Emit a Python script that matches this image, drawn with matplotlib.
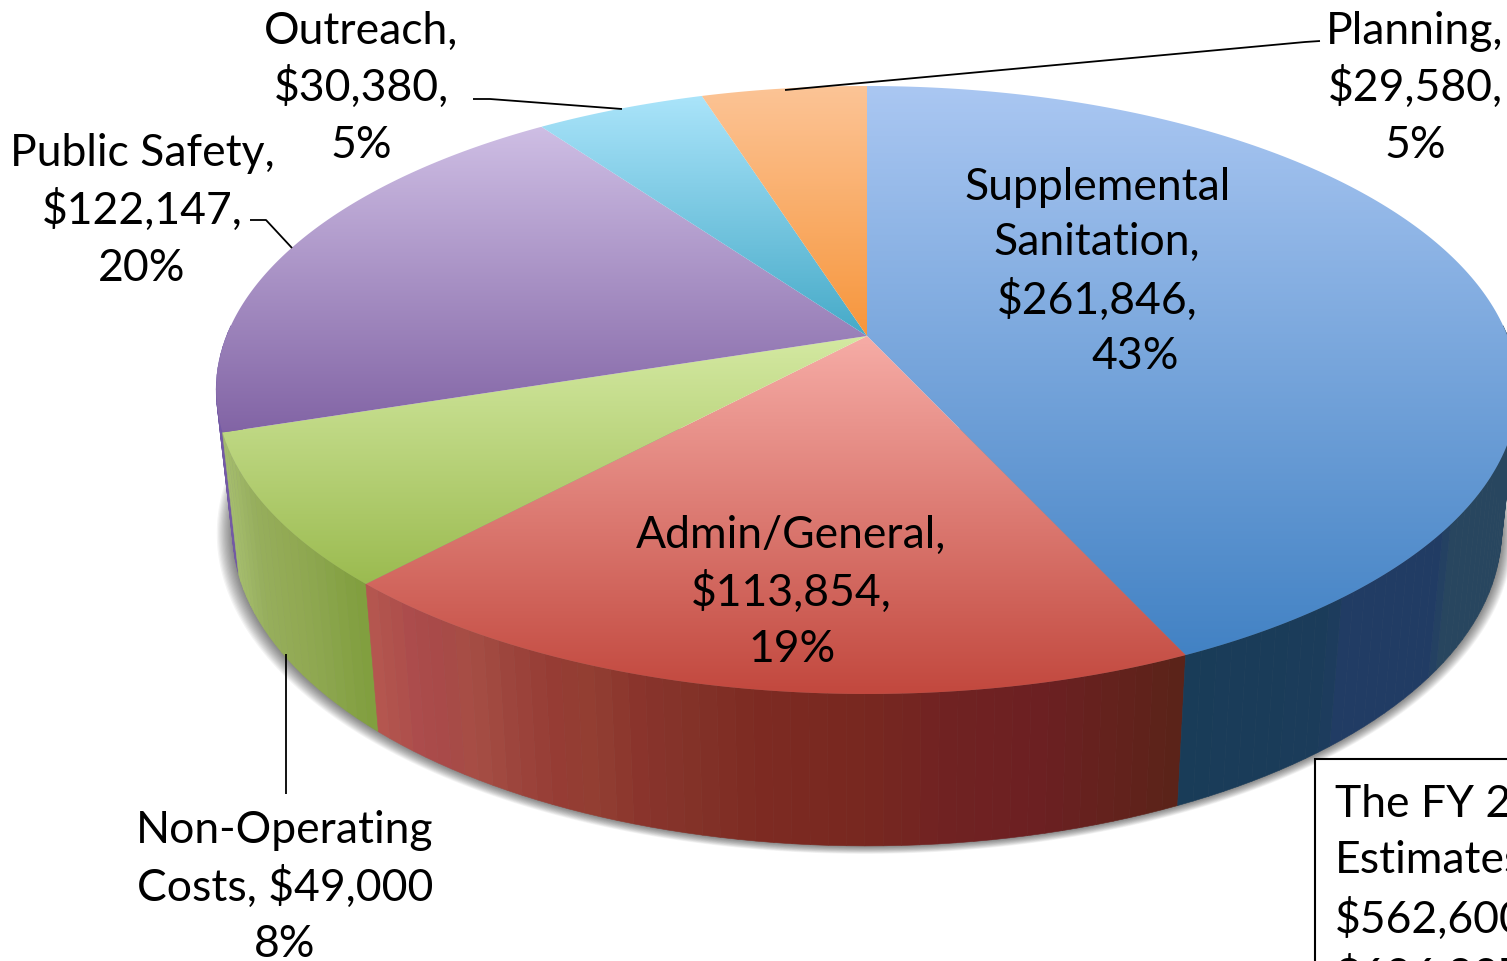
import numpy as np
import matplotlib
matplotlib.use("Agg")
import matplotlib.pyplot as plt
from matplotlib.patches import Polygon, Rectangle
from matplotlib.collections import PolyCollection

plt.rcParams['font.family'] = ['Lato', 'DejaVu Sans']

categories = ["Supplemental Sanitation", "Admin/General", "Non-Operating Costs",
              "Public Safety", "Outreach", "Planning"]
values = [261846, 113854, 49000, 122147, 30380, 29580]
percents = ["43%", "19%", "8%", "20%", "5%", "5%"]
note_lines = ["The FY 2016", "Estimates", "$562,600", "$606,207"]

W, H = 1507, 962
CX, CY = 867.0, 337.0
R, A, K = 640.5, 294.4, 0.1776

TOP_GRAD = [((170, 199, 242), (66, 130, 196), 87, 656),
            ((246, 172, 166), (194, 72, 62), 337, 695),
            ((212, 233, 162), (155, 187, 80), 337, 585),
            ((206, 190, 228), (130, 100, 165), 128, 433),
            ((170, 228, 250), (70, 170, 200), 97, 337),
            ((252, 196, 150), (247, 150, 60), 87, 337)]

WALL_STOPS = [
    [(1178, (25, 60, 88)), (1318, (27, 60, 90)), (1335, (33, 60, 100)), (1425, (33, 60, 100)),
     (1440, (40, 70, 95)), (1507, (40, 70, 95))],
    [(378, (182, 88, 80)), (400, (176, 82, 76)), (420, (172, 76, 76)), (450, (168, 74, 72)),
     (480, (166, 78, 68)), (510, (158, 70, 62)), (560, (150, 60, 52)), (600, (146, 62, 50)),
     (640, (138, 52, 44)), (700, (130, 50, 40)), (760, (125, 42, 34)), (860, (120, 40, 32)),
     (950, (112, 34, 34)), (1040, (108, 32, 34)), (1120, (98, 34, 28)), (1178, (90, 35, 25))],
    [(235, (168, 192, 112)), (250, (160, 184, 104)), (270, (150, 174, 92)), (300, (146, 170, 84)),
     (330, (140, 166, 78)), (350, (134, 162, 70)), (378, (128, 158, 62))],
    [(215, (115, 90, 165)), (260, (115, 90, 165))],
]


def top_xy(theta):
    u, v = np.sin(theta), np.cos(theta)
    d = 1 + K * v
    return CX + R * u / d, CY - A * v / d


def bottom_xy(theta):
    x, y = top_xy(theta)
    return CX + 0.975 * (x - CX), y + 142 + 0.038 * (y - 433)


def wall_colour(x, stops):
    xs = [s[0] for s in stops]
    return tuple(np.interp(x, xs, [s[1][i] for s in stops]) / 255 for i in range(3))


fig = plt.figure(figsize=(W / 100, H / 100), dpi=100)
ax = fig.add_axes([0, 0, 1, 1])
ax.set_axis_off()

angles = np.concatenate([[0], np.cumsum(values) / np.sum(values) * 2 * np.pi])

# soft shadow below the pie
tt = np.linspace(np.pi * 0.45, np.pi * 1.55, 240)
bx, by = bottom_xy(tt)
for grow in np.linspace(14, 1, 13):
    frac = grow / 14
    sx = CX + (bx - CX) * (1 + grow / 650) - 2 * frac
    sy = by + grow * 0.55 * (by - 330) / 500
    ax.add_patch(Polygon(np.c_[sx, sy], closed=True, fc='black', ec='none', alpha=0.045, zorder=1))

# side walls: purple sliver first, then the front slices
for idx in [3, 2, 1, 0]:
    a0, a1 = angles[idx], angles[idx + 1]
    if idx == 3:
        a1 = np.radians(272)
    if idx == 0:
        a0 = np.radians(88)
    steps = int(np.degrees(a1 - a0) / 1.4) + 1
    th = np.linspace(a0, a1, steps + 1)
    tx, ty = top_xy(th)
    lx, ly = bottom_xy(th)
    polys, cols = [], []
    stops = WALL_STOPS[idx]
    for i in range(steps):
        polys.append([(tx[i], ty[i]), (tx[i + 1], ty[i + 1]), (lx[i + 1], ly[i + 1]), (lx[i], ly[i])])
        cols.append(wall_colour(0.5 * (lx[i] + lx[i + 1]), stops))
    ax.add_collection(PolyCollection(polys, facecolors=cols, edgecolors=cols, linewidths=0.4, zorder=2))

# top faces
for i, (c0, c1, y0, y1) in enumerate(TOP_GRAD):
    th = np.linspace(angles[i], angles[i + 1], 200)
    ex, ey = top_xy(th)
    poly = Polygon(np.r_[[[CX, CY]], np.c_[ex, ey]], closed=True, transform=ax.transData,
                   fc='none', ec='none')
    ax.add_patch(poly)
    grad = np.linspace(np.array(c0), np.array(c1), 256)[:, None, :] / 255
    im = ax.imshow(grad, extent=(0, W, y1, y0), aspect='auto', interpolation='bilinear', zorder=3)
    im.set_clip_path(poly)

ax.set_xlim(0, W)
ax.set_ylim(H, 0)

# leader lines
leaders = [([785, 1305, 1320], [91, 43, 42]),
           ([473, 490, 622], [100, 100, 110]),
           ([250, 266, 292], [221, 221, 249]),
           ([286, 286], [655, 795])]
for lx_, ly_ in leaders:
    ax.plot(lx_, ly_, color='black', lw=1.3, zorder=4, solid_capstyle='butt')

# labels
money = [f"${v:,}" for v in values]
FS = 32
labels = [
    (["Supplemental", "Sanitation,", money[0] + ",", percents[0]],
     [1098, 1097, 1097, 1135], [183, 238, 296, 353]),
    (["Admin/General,", money[1] + ",", percents[1]],
     [791, 791, 792], [531, 588, 646]),
    (["Non-Operating", "Costs, " + money[2], percents[2]],
     [285, 285, 285], [827, 883, 941]),
    (["Public Safety,", money[3] + ",", percents[3]],
     [142, 142, 142], [150, 206, 265]),
    (["Outreach,", money[4] + ",", percents[4]],
     [361, 361, 361], [27, 83, 142]),
    (["Planning,", money[5] + ",", percents[5]],
     [1415, 1415, 1415], [27, 83, 142]),
]
for lines, xs, ys in labels:
    for s, x, y in zip(lines, xs, ys):
        ax.text(x, y, s, ha='center', va='center_baseline', fontsize=FS, color='black', zorder=5)

# note box, running off the picture
ax.add_patch(Rectangle((1315, 760), 400, 400, fc='white', ec='black', lw=1.5, zorder=4, clip_on=True))
for s, y in zip(note_lines, [801, 857, 915, 972]):
    ax.text(1335, y, s, ha='left', va='center_baseline', fontsize=FS, color='black', zorder=5, clip_on=True)

fig.savefig("out.png", dpi=100, facecolor='white')
